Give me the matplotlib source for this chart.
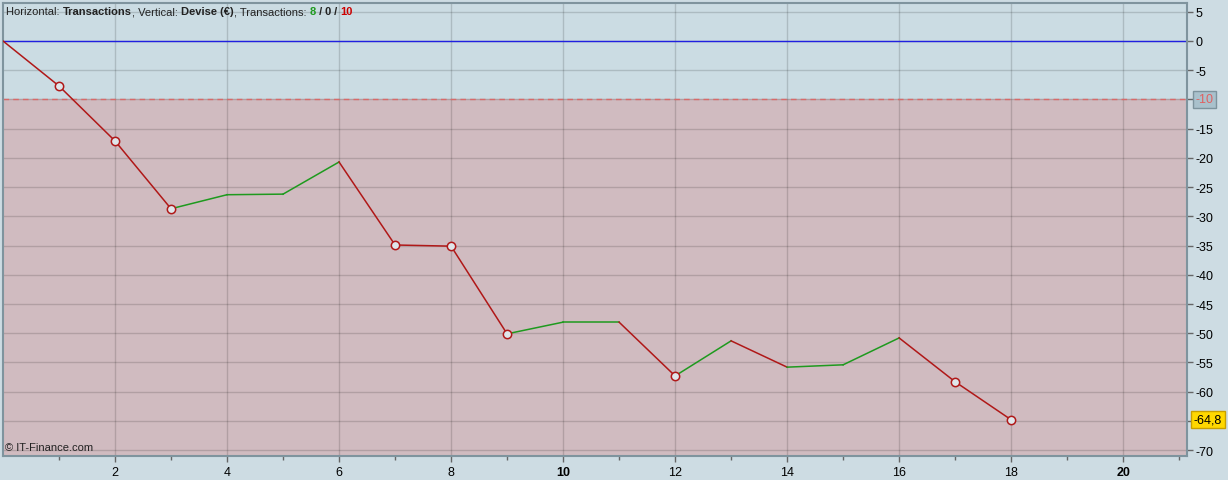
import matplotlib.pyplot as plt
from matplotlib.offsetbox import TextArea, HPacker, AnchoredOffsetbox

plt.rcParams['font.family'] = ['Liberation Sans', 'DejaVu Sans']

# ================= DATA =================

trades = list(range(0, 19))
equity = [0, -7.7, -17.1, -28.7, -26.3, -26.2, -20.7, -34.9, -35.1, -50.1,
          -48.1, -48.1, -57.3, -51.3, -55.8, -55.4, -50.8, -58.3, -64.8]
low_marks = [1, 2, 3, 7, 8, 9, 12, 17, 18]
x_major = [2, 4, 6, 8, 10, 12, 14, 16, 18, 20]
y_ticks = [5, 0, -5, -10, -15, -20, -25, -30, -35, -40, -45, -50, -55, -60, -65, -70]
limit_level = -10
last_value = -64.8
n_win, n_even, n_loss = 8, 0, 10

# ================= COLORS =================

bg = "#cddce3"
upper_fill = "#cbdce3"
lower_fill = "#d0bbc0"
red = "#b01818"
green = "#1e9a1e"

fig = plt.figure(figsize=(12.28, 4.81), dpi=100, facecolor=bg)
ax = fig.add_axes([3 / 1228, (481 - 457) / 481, 1184 / 1228, 453 / 481])
ax.set_facecolor(upper_fill)

ax.set_xlim(0, 21.14)
ax.set_ylim(-71.0, 6.5)

# zones
ax.axhspan(-71.0, limit_level, color=lower_fill, zorder=0)
ax.axhline(limit_level, color="#d86a6a", linestyle=(0, (4, 3)), linewidth=1, zorder=2)
ax.axhline(0, color="#2020e0", linewidth=1, zorder=2)

# grid
ax.set_xticks(x_major)
ax.set_xticks([x for x in range(1, 22) if x % 2 == 1], minor=True)
ax.set_yticks(y_ticks)
ax.grid(True, which="major", color="black", alpha=0.15, linewidth=1)
ax.set_axisbelow(True)

# equity segments
for i in range(len(equity) - 1):
    c = green if equity[i + 1] >= equity[i] else red
    ax.plot(trades[i:i + 2], equity[i:i + 2], color=c, linewidth=1.1, zorder=3)

ax.plot([trades[i] for i in low_marks], [equity[i] for i in low_marks], "o",
        markersize=6, markerfacecolor="#dfe6ea", markeredgecolor=red,
        markeredgewidth=1.1, linestyle="none", zorder=4)

# axes style
for s in ax.spines.values():
    s.set_color("#7f949e")
    s.set_linewidth(1.5)

ax.yaxis.tick_right()
ax.tick_params(axis="y", which="major", length=4, width=1, color="#666666",
               pad=2, labelsize=9, labelcolor="black")
ax.tick_params(axis="x", which="major", length=4, width=1, color="#666666",
               pad=3, labelsize=9)
ax.tick_params(axis="x", which="minor", length=3, width=1, color="#666666")
ax.set_yticklabels([str(v) for v in y_ticks])
ax.set_xticklabels([str(v) for v in x_major])
for lab in ax.get_xticklabels():
    if lab.get_text() in ("10", "20"):
        lab.set_fontweight("bold")

# hide -10 and -65 default labels, draw boxed ones
for lab, v in zip(ax.get_yticklabels(), y_ticks):
    if v in (-10, -65):
        lab.set_visible(False)

ax.annotate("-10", xy=(1.0, limit_level), xycoords=("axes fraction", "data"),
            xytext=(6, 0), textcoords="offset points", va="center", ha="left",
            fontsize=9, color="#e06060",
            bbox=dict(boxstyle="square,pad=0.2", fc="#a9c1cc", ec="#7d939d", lw=1))
ax.annotate("-64,8", xy=(1.0, last_value), xycoords=("axes fraction", "data"),
            xytext=(5, 0), textcoords="offset points", va="center", ha="left",
            fontsize=9, color="black",
            bbox=dict(boxstyle="square,pad=0.2", fc="#ffd800", ec="#c8a000", lw=1))

# header text
parts = [("Horizontal: ", "normal", "#222222"), ("Transactions", "bold", "#222222"),
         (", Vertical: ", "normal", "#222222"), ("Devise (€)", "bold", "#222222"),
         (", Transactions: ", "normal", "#222222"), (str(n_win), "bold", green),
         (" / ", "bold", "#222222"), (str(n_even), "bold", "#222222"),
         (" / ", "bold", "#222222"), (str(n_loss), "bold", "#cc0000")]
boxes = [TextArea(t, textprops=dict(fontsize=8, fontweight=w, color=c)) for t, w, c in parts]
header = AnchoredOffsetbox(loc="upper left", child=HPacker(children=boxes, pad=0, sep=0),
                           frameon=False, bbox_to_anchor=(0.0, 1.0),
                           bbox_transform=ax.transAxes, borderpad=0.15, pad=0.1)
ax.add_artist(header)

ax.text(0.002, 0.008, "© IT-Finance.com", transform=ax.transAxes, fontsize=8,
        color="#222222", ha="left", va="bottom")

fig.savefig("out.png", dpi=100, facecolor=bg)
